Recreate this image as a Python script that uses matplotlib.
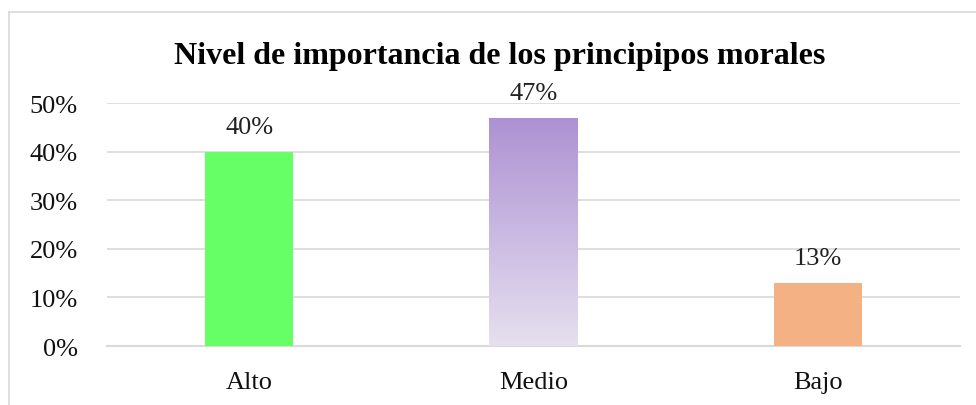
import numpy as np
import matplotlib.pyplot as plt
from matplotlib.colors import LinearSegmentedColormap
from matplotlib.lines import Line2D

# Data
categories = ['Alto', 'Medio', 'Bajo']
values = [0.40, 0.47, 0.13]
labels = ['40%', '47%', '13%']
yticks = [0, 0.1, 0.2, 0.3, 0.4, 0.5]
ytick_labels = ['0%', '10%', '20%', '30%', '40%', '50%']

plt.rcParams['font.family'] = ['Liberation Serif', 'DejaVu Serif']

fig = plt.figure(figsize=(9.76, 4.06), dpi=100)
ax = fig.add_axes([0.1096, 0.1453, 0.874, 0.5985])

x = np.arange(len(categories))
bars = ax.bar(x, values, width=0.31, color=['#66FF66', 'none', '#F4B183'], zorder=3)

# gradient fill for the middle bar
grad = LinearSegmentedColormap.from_list('purp', ['#E6E0F0', '#AD91D3'])
b = bars[1]
bx, by = b.get_x(), b.get_y()
bw, bh = b.get_width(), b.get_height()
img = ax.imshow(np.linspace(0, 1, 256).reshape(-1, 1), cmap=grad, origin='lower',
                extent=[bx, bx + bw, by, by + bh], aspect='auto', zorder=3)
img.set_clip_path(b)

for xi, v, lab in zip(x, values, labels):
    ax.annotate(lab, (xi, v), xytext=(0, 10), textcoords='offset points',
                ha='center', va='bottom', fontsize=19, color='#222222')

ax.set_xlim(-0.5, 2.5)
ax.set_ylim(0, 0.5)
ax.set_yticks(yticks)
ax.set_yticklabels(ytick_labels)
ax.set_xticks(x)
ax.set_xticklabels(categories)
ax.tick_params(axis='both', length=0, labelsize=19, colors='#111111')
ax.tick_params(axis='x', pad=18)
ax.tick_params(axis='y', pad=21)
ax.grid(axis='y', color='#D9D9D9', linewidth=1.2, zorder=0)
for s in ['top', 'right', 'left']:
    ax.spines[s].set_visible(False)
ax.spines['bottom'].set_color('#D9D9D9')
ax.spines['bottom'].set_linewidth(1.5)

fig.text(0.512, 0.862, 'Nivel de importancia de los principipos morales',
         ha='center', va='center', fontsize=23, fontweight='bold')

# outer chart border
fig.add_artist(Line2D([9 / 976, 9 / 976], [0, 1 - 13 / 406], color='#D9D9D9', lw=1.2))
fig.add_artist(Line2D([9 / 976, 1], [1 - 13 / 406, 1 - 13 / 406], color='#D9D9D9', lw=1.2))

fig.savefig('out.png', dpi=100)
